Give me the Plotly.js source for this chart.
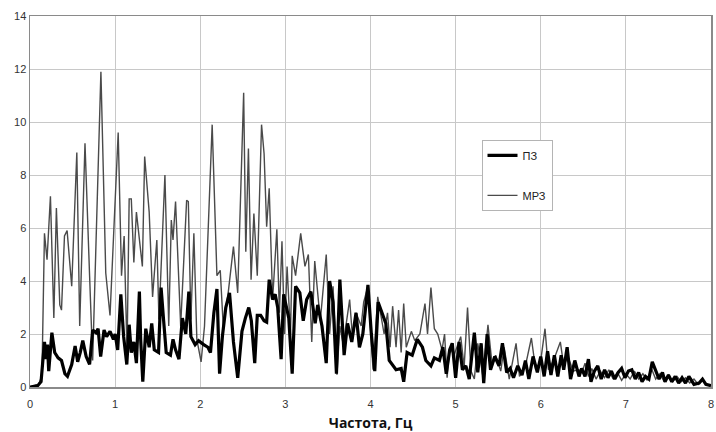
<!DOCTYPE html>
<html>
<head>
<meta charset="utf-8">
<script src="https://cdn.plot.ly/plotly-3.0.1.min.js"></script>
<style>html,body{margin:0;padding:0;background:#fff;}#chart{width:716px;height:432px;}</style>
</head>
<body>
<div id="chart"></div>
<script>
// МРЗ series (thin gray)
var freqMRZ = [0,0.05,0.1,0.14,0.17,0.2,0.24,0.28,0.31,0.35,0.37,0.405,0.436,0.49,0.55,0.584,0.646,0.70,0.736,0.833,0.89,0.94,0.98,1.036,1.075,1.106,1.14,1.165,1.19,1.22,1.25,1.32,1.347,1.40,1.44,1.49,1.515,1.585,1.63,1.66,1.68,1.71,1.77,1.84,1.86,1.89,1.925,1.96,2.01,2.05,2.14,2.196,2.235,2.27,2.33,2.39,2.44,2.51,2.535,2.566,2.597,2.63,2.67,2.72,2.75,2.78,2.81,2.85,2.90,2.93,2.96,2.99,3.02,3.06,3.08,3.12,3.18,3.23,3.27,3.31,3.345,3.41,3.43,3.48,3.52,3.56,3.606,3.64,3.68,3.755,3.79,3.83,3.89,3.92,3.97,4.03,4.085,4.16,4.20,4.23,4.26,4.30,4.33,4.36,4.39,4.42,4.48,4.52,4.58,4.64,4.67,4.71,4.75,4.79,4.84,4.87,4.90,4.93,4.98,5.06,5.10,5.14,5.18,5.22,5.26,5.32,5.38,5.43,5.47,5.53,5.57,5.63,5.71,5.75,5.82,5.89,5.94,6.0,6.05,6.09,6.15,6.23,6.27,6.32,6.38,6.44,6.49,6.52,6.56,6.6,6.65,6.7,6.75,6.8,6.85,6.9,6.95,7.0,7.05,7.1,7.15,7.2,7.25,7.3,7.35,7.4,7.45,7.5,7.55,7.6,7.65,7.7,7.75,7.8,7.85,7.9,7.95,8.0];
var valMRZ = [0,0.05,0.1,0.4,5.8,4.8,7.2,2.6,6.75,3.1,2.9,5.7,5.9,3.8,8.85,2.3,9.2,4.2,1.0,11.9,4.3,2.7,5.7,9.6,4.2,5.7,1.3,7.1,7.1,4.7,6.6,4.55,8.7,6.6,3.4,5.55,2.55,8.0,2.3,6.3,5.55,7.0,2.3,7.05,7.0,2.55,5.8,1.8,0.95,2.3,9.9,4.2,4.4,2.3,3.6,5.3,3.55,11.1,5.1,9.0,4.05,6.55,4.2,9.9,8.8,6.05,7.5,3.3,5.95,2.8,5.5,2.0,4.55,2.0,4.95,4.2,5.8,4.55,5.0,1.7,4.75,2.5,3.2,5.0,2.0,3.8,0.46,2.3,1.6,3.3,1.8,2.8,2.3,3.2,3.8,0.65,3.4,2.0,2.8,1.5,3.05,1.5,2.9,1.3,3.15,1.5,2.1,1.75,2.0,3.15,2.0,3.75,2.2,2.0,1.4,2.0,0.35,1.5,1.2,1.9,0.75,3.0,0.6,0.3,1.65,0.4,2.35,0.8,1.2,0.6,1.5,0.3,1.65,0.4,0.8,1.85,0.65,1.0,2.2,0.65,1.0,1.7,0.8,1.15,0.6,0.65,0.6,0.9,0.4,0.7,0.3,0.6,0.35,0.65,0.3,0.55,0.25,0.5,0.3,0.6,0.3,0.5,0.25,0.7,0.3,0.5,0.2,0.45,0.2,0.4,0.2,0.35,0.15,0.3,0.1,0.25,0.1,0.05];

// ПЗ series (thick black)
var freqPZ = [0,0.09,0.13,0.17,0.19,0.205,0.22,0.257,0.29,0.33,0.37,0.41,0.44,0.49,0.53,0.56,0.59,0.62,0.66,0.70,0.736,0.775,0.80,0.83,0.87,0.90,0.94,0.98,1.0,1.03,1.067,1.10,1.137,1.165,1.19,1.22,1.25,1.285,1.30,1.325,1.36,1.40,1.43,1.46,1.51,1.54,1.57,1.60,1.65,1.68,1.71,1.75,1.79,1.83,1.866,1.89,1.94,1.98,2.04,2.09,2.12,2.16,2.196,2.227,2.26,2.30,2.344,2.39,2.44,2.49,2.53,2.57,2.60,2.64,2.67,2.71,2.75,2.78,2.81,2.85,2.88,2.91,2.95,2.98,3.04,3.08,3.12,3.17,3.21,3.25,3.30,3.35,3.38,3.43,3.48,3.52,3.56,3.60,3.64,3.69,3.73,3.78,3.83,3.87,3.91,3.97,4.01,4.05,4.09,4.14,4.18,4.22,4.26,4.30,4.36,4.39,4.43,4.49,4.55,4.61,4.65,4.71,4.75,4.81,4.85,4.89,4.93,4.96,5.0,5.04,5.08,5.12,5.16,5.22,5.26,5.30,5.33,5.37,5.41,5.46,5.51,5.55,5.60,5.64,5.68,5.73,5.78,5.82,5.86,5.91,5.96,6.0,6.04,6.08,6.12,6.16,6.2,6.24,6.27,6.31,6.35,6.40,6.45,6.48,6.52,6.56,6.59,6.63,6.67,6.71,6.75,6.79,6.83,6.87,6.91,6.95,6.99,7.03,7.07,7.11,7.15,7.19,7.23,7.27,7.31,7.35,7.39,7.43,7.46,7.5,7.54,7.58,7.62,7.66,7.7,7.74,7.8,7.86,7.9,7.94,8.0];
var valPZ = [0,0.05,0.2,1.7,1.05,1.6,0.6,2.05,1.3,1.1,1.0,0.5,0.4,0.85,1.55,0.95,1.3,1.75,1.15,0.85,2.15,2.05,2.2,1.15,2.15,1.9,2.1,1.8,2.0,1.4,3.5,1.9,0.85,2.35,1.3,1.7,0.9,3.6,1.8,0.2,2.2,1.5,2.4,1.4,1.3,3.75,2.5,1.3,1.2,1.8,1.4,1.05,2.6,2.0,3.6,1.9,1.6,1.75,1.6,1.5,1.3,2.8,3.7,0.5,1.9,3.0,3.55,1.7,0.35,2.1,2.6,3.0,2.5,0.9,2.7,2.7,2.5,2.45,4.05,3.3,3.5,3.0,1.05,3.5,2.6,0.5,3.8,3.55,2.5,3.3,3.6,2.4,3.1,2.3,0.9,4.0,3.2,0.5,4.05,1.2,2.4,1.7,2.8,1.5,2.0,3.85,2.0,0.6,3.2,2.8,2.4,1.0,0.8,0.65,0.7,0.2,1.3,1.2,1.8,1.5,1.0,0.8,1.1,1.0,1.5,0.5,1.4,1.65,0.35,1.7,0.65,0.8,0.3,2.05,0.55,1.65,0.15,2.0,0.65,1.15,0.8,1.65,0.55,0.7,0.35,0.8,0.45,1.0,0.3,1.15,0.55,1.15,0.4,1.35,0.45,1.2,0.4,1.2,0.65,1.5,0.3,1.0,0.4,0.7,0.4,1.05,0.2,0.6,0.8,0.3,0.65,0.35,0.6,0.3,0.55,0.7,0.35,0.6,0.65,0.3,0.55,0.2,0.4,0.3,0.95,0.6,0.3,0.55,0.2,0.45,0.2,0.4,0.15,0.35,0.15,0.4,0.1,0.15,0.3,0.1,0.05];

var seriesNames = ['ПЗ', 'МРЗ'];
var xTickVals = [0,1,2,3,4,5,6,7,8];
var yTickVals = [0,2,4,6,8,10,12,14];
var xTitle = 'Частота, Гц';

var traces = [
  {x: freqMRZ, y: valMRZ, type: 'scatter', mode: 'lines', name: seriesNames[1],
   line: {color: '#4a4a4a', width: 1.4}, legendgroup: 'b', legendrank: 2},
  {x: freqPZ, y: valPZ, type: 'scatter', mode: 'lines', name: seriesNames[0],
   line: {color: '#000000', width: 3.2}, legendgroup: 'a', legendrank: 1}
];

var tickFont = {family: 'Liberation Sans, Arial, sans-serif', size: 11, color: '#333'};

var layout = {
  width: 716, height: 432,
  margin: {l: 30, r: 5, t: 16, b: 45, pad: 0},
  paper_bgcolor: '#ffffff', plot_bgcolor: '#ffffff',
  showlegend: true,
  legend: {x: 0.663, y: 0.666, xanchor: 'left', yanchor: 'top',
    bgcolor: '#ffffff', bordercolor: '#b4b4b4', borderwidth: 1,
    font: {family: 'Liberation Sans, Arial, sans-serif', size: 11, color: '#222'},
    tracegroupgap: 21, itemwidth: 30},
  xaxis: {range: [0, 8], tickvals: xTickVals, showgrid: true, gridcolor: '#c8c8c8', gridwidth: 1,
    zeroline: false, showline: true, mirror: true, linecolor: '#8a8a8a', linewidth: 1.5,
    ticks: '', tickfont: tickFont, ticklabelstandoff: 6, ticklabeloverflow: 'allow',
    title: {text: xTitle, font: {family: 'Open Sans, sans-serif', size: 14, color: '#111', weight: 'bold'}, standoff: 12}},
  yaxis: {range: [0, 14], tickvals: yTickVals, showgrid: true, gridcolor: '#c8c8c8', gridwidth: 1,
    zeroline: false, showline: true, mirror: true, linecolor: '#8a8a8a', linewidth: 1.5,
    ticks: '', tickfont: tickFont}
};

Plotly.newPlot('chart', traces, layout, {displayModeBar: false, staticPlot: true});
</script>
</body>
</html>
